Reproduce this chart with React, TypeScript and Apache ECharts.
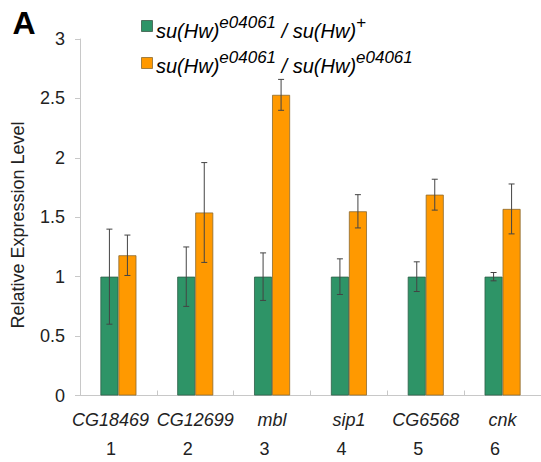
import React, { useEffect, useRef } from "react";
import * as echarts from "echarts";

const categories = ["CG18469", "CG12699", "mbl", "sip1", "CG6568", "cnk"];
const geneNumbers = ["1", "2", "3", "4", "5", "6"];
const heteroValues = [1, 1, 1, 1, 1, 1];
const heteroLow = [0.6, 0.75, 0.8, 0.85, 0.875, 0.965];
const heteroHigh = [1.4, 1.25, 1.2, 1.15, 1.125, 1.035];
const homoValues = [1.18, 1.54, 2.53, 1.55, 1.69, 1.57];
const homoLow = [1.01, 1.12, 2.4, 1.41, 1.56, 1.36];
const homoHigh = [1.35, 1.96, 2.66, 1.69, 1.82, 1.78];
const yTicks = [0, 0.5, 1, 1.5, 2, 2.5, 3];

const FONT = "Liberation Sans, Arial, sans-serif";
const GREEN = "#2e9467";
const ORANGE = "#ff9900";

function errRender(offset: number) {
  return (params: any, api: any) => {
    const idx = api.value(0);
    const lo = api.coord([idx, api.value(1)]);
    const hi = api.coord([idx, api.value(2)]);
    const x = lo[0] + offset;
    const cap = 3;
    const style = { stroke: "#444", lineWidth: 1 };
    return {
      type: "group",
      children: [
        { type: "line", shape: { x1: x, y1: lo[1], x2: x, y2: hi[1] }, style },
        { type: "line", shape: { x1: x - cap, y1: lo[1], x2: x + cap, y2: lo[1] }, style },
        { type: "line", shape: { x1: x - cap, y1: hi[1], x2: x + cap, y2: hi[1] }, style },
      ],
    };
  };
}

export default function App() {
  const ref = useRef<HTMLDivElement>(null);
  useEffect(() => {
    if (!ref.current) return;
    const chart = echarts.init(ref.current, null, { renderer: "svg" });
    const legendRich = {
      i: { fontSize: 20, fontStyle: "italic", fontFamily: FONT, color: "#222", lineHeight: 27, verticalAlign: "bottom" },
      s: { fontSize: 17, fontStyle: "italic", fontFamily: FONT, color: "#222", lineHeight: 27, verticalAlign: "top", padding: [0, 0, 8, 0] },
    };
    chart.setOption({
      animation: false,
      grid: { left: 80, right: 0, top: 39, bottom: 66.5, containLabel: false },
      xAxis: {
        type: "category",
        data: categories,
        axisLine: { lineStyle: { color: "#c8c8c8", width: 1 } },
        axisTick: { show: true, inside: true, length: 5, lineStyle: { color: "#c8c8c8" } },
        axisLabel: {
          margin: 10,
          interval: 0,
          formatter: (v: string, i: number) => `{${i === 0 ? "g1" : "g"}|${v}}\n{n|${geneNumbers[i]}}`,
          rich: {
            g: { fontSize: 18, fontStyle: "italic", fontFamily: FONT, color: "#222", lineHeight: 29 },
            g1: { fontSize: 18, fontStyle: "italic", fontFamily: FONT, color: "#222", lineHeight: 29, padding: [0, 16, 0, 0] },
            n: { fontSize: 18, fontFamily: FONT, color: "#222", lineHeight: 29, padding: [0, 15, 0, 0] },
          },
        },
      },
      yAxis: {
        type: "value",
        min: 0,
        max: 3,
        interval: 0.5,
        splitLine: { show: false },
        axisLine: { show: true, lineStyle: { color: "#c8c8c8", width: 1 } },
        axisTick: { show: true, length: 5, lineStyle: { color: "#c8c8c8" } },
        axisLabel: {
          margin: 15,
          fontSize: 18,
          fontFamily: FONT,
          color: "#222",
          formatter: (v: number) => (yTicks.includes(v) ? String(v) : ""),
        },
      },
      graphic: [
        {
          type: "text",
          x: 24,
          y: 23,
          style: { text: "A", fontSize: 32, fontWeight: "bold", fontFamily: FONT, fill: "#000", align: "center", verticalAlign: "middle" },
        },
        {
          type: "text",
          x: 18,
          y: 225,
          rotation: Math.PI / 2,
          style: { text: "Relative Expression Level", fontSize: 18, fontFamily: FONT, fill: "#222", align: "center", verticalAlign: "middle" },
        },
        { type: "rect", shape: { x: 141.5, y: 20.5, width: 11, height: 11 }, style: { fill: GREEN, stroke: "#3a5a48", lineWidth: 0.8 } },
        { type: "rect", shape: { x: 141.5, y: 57.5, width: 11, height: 11 }, style: { fill: ORANGE, stroke: "#8a6a30", lineWidth: 0.8 } },
        {
          type: "text",
          x: 156,
          y: 27,
          style: { text: "{i|su(Hw)}{s|e04061}{i| / su(Hw)}{s|+}", rich: legendRich, verticalAlign: "middle", align: "left" },
        },
        {
          type: "text",
          x: 156,
          y: 62,
          style: { text: "{i|su(Hw)}{s|e04061}{i| / su(Hw)}{s|e04061}", rich: legendRich, verticalAlign: "middle", align: "left" },
        },
      ],
      series: [
        {
          name: "hetero",
          type: "bar",
          data: heteroValues,
          barWidth: 18,
          barGap: "0%",
          itemStyle: { color: GREEN, borderColor: "#2f5e47", borderWidth: 0.8 },
        },
        {
          name: "homo",
          type: "bar",
          data: homoValues,
          barWidth: 18,
          barGap: "0%",
          itemStyle: { color: ORANGE, borderColor: "#8a6a30", borderWidth: 0.8 },
        },
        {
          type: "custom",
          renderItem: errRender(-9),
          data: categories.map((_, i) => [i, heteroLow[i], heteroHigh[i]]),
          z: 10,
        },
        {
          type: "custom",
          renderItem: errRender(9),
          data: categories.map((_, i) => [i, homoLow[i], homoHigh[i]]),
          z: 10,
        },
      ],
    });
    return () => chart.dispose();
  }, []);
  return <div ref={ref} style={{ width: 541, height: 462, position: "absolute", left: 0, top: 0, background: "#fff" }} />;
}
